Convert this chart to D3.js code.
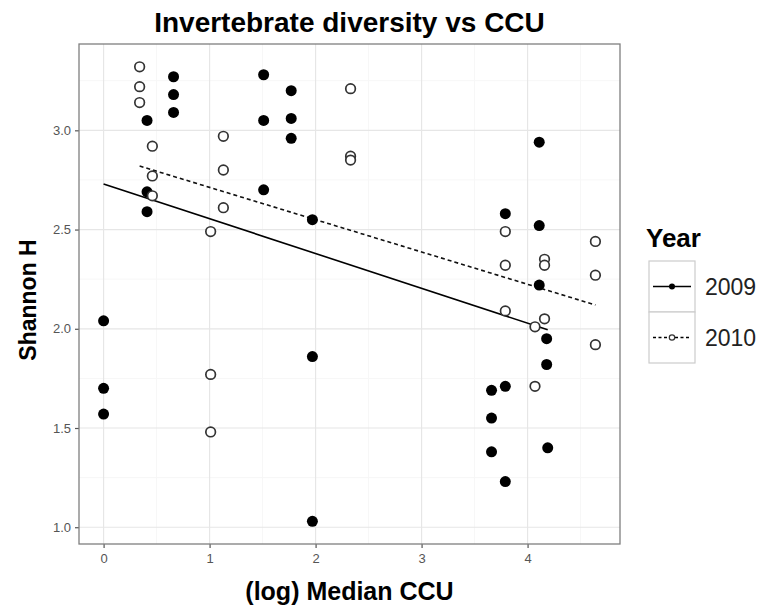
<!DOCTYPE html>
<html>
<head>
<meta charset="utf-8">
<script src="https://cdn.jsdelivr.net/npm/d3@7"></script>
<style>
  html, body { margin: 0; padding: 0; background: #fff; }
  svg { display: block; font-family: "Liberation Sans", Arial, sans-serif; }
</style>
</head>
<body>
<svg id="chart" width="764" height="609"></svg>
<script>
// ---- data ----
const years = ["2009", "2010"];
const x2009 = [0, 0, 0, 0.41, 0.41, 0.41, 0.66, 0.66, 0.66, 1.51, 1.51, 1.51, 1.77, 1.77, 1.77,
               1.97, 1.97, 1.97, 3.66, 3.66, 3.66, 3.79, 3.79, 3.79, 4.11, 4.11, 4.11, 4.18, 4.18, 4.19];
const y2009 = [2.04, 1.70, 1.57, 3.05, 2.69, 2.59, 3.27, 3.18, 3.09, 3.28, 3.05, 2.70, 3.20, 3.06, 2.96,
               2.55, 1.86, 1.03, 1.69, 1.55, 1.38, 2.58, 1.71, 1.23, 2.94, 2.52, 2.22, 1.95, 1.82, 1.40];
const x2010 = [0.34, 0.34, 0.34, 0.46, 0.46, 0.46, 1.01, 1.01, 1.01, 1.13, 1.13, 1.13, 2.33, 2.33, 2.33,
               3.79, 3.79, 3.79, 4.07, 4.07, 4.16, 4.16, 4.16, 4.64, 4.64, 4.64];
const y2010 = [3.32, 3.22, 3.14, 2.92, 2.77, 2.67, 2.49, 1.77, 1.48, 2.97, 2.80, 2.61, 3.21, 2.87, 2.85,
               2.49, 2.32, 2.09, 2.01, 1.71, 2.35, 2.32, 2.05, 2.44, 2.27, 1.92];
// fitted regression lines (endpoints)
const fit2009X = [0, 4.19];
const fit2009Y = [2.73, 1.995];
const fit2010X = [0.34, 4.64];
const fit2010Y = [2.82, 2.12];
const xTicks = [0, 1, 2, 3, 4];
const yTicks = [1.0, 1.5, 2.0, 2.5, 3.0];
const xMinor = [-0.5, 0.5, 1.5, 2.5, 3.5, 4.5];
const yMinor = [0.75, 1.25, 1.75, 2.25, 2.75, 3.25];

// ---- layout ----
const svg = d3.select("#chart");
const P = { left: 79, right: 620, top: 44, bottom: 544 };
const xAll = x2009.concat(x2010), yAll = y2009.concat(y2010);
const xExt = d3.extent(xAll), yExt = d3.extent(yAll);
const xPad = (xExt[1] - xExt[0]) * 0.05, yPad = (yExt[1] - yExt[0]) * 0.05;
const x = d3.scaleLinear().domain([xExt[0] - xPad, xExt[1] + xPad]).range([P.left, P.right]);
const y = d3.scaleLinear().domain([yExt[0] - yPad, 3.435]).range([P.bottom, P.top]);

const g = svg.append("g");
g.append("rect").attr("x", P.left).attr("y", P.top)
  .attr("width", P.right - P.left).attr("height", P.bottom - P.top).attr("fill", "#fff");

// minor grid
g.selectAll(".vminor").data(xMinor.filter(v => v > x.domain()[0] && v < x.domain()[1])).enter()
  .append("line").attr("x1", d => x(d)).attr("x2", d => x(d)).attr("y1", P.top).attr("y2", P.bottom)
  .attr("stroke", "#f7f7f7").attr("stroke-width", 1);
g.selectAll(".hminor").data(yMinor.filter(v => v > y.domain()[0] && v < y.domain()[1])).enter()
  .append("line").attr("y1", d => y(d)).attr("y2", d => y(d)).attr("x1", P.left).attr("x2", P.right)
  .attr("stroke", "#f7f7f7").attr("stroke-width", 1);
// major grid
g.selectAll(".vmajor").data(xTicks).enter()
  .append("line").attr("x1", d => x(d)).attr("x2", d => x(d)).attr("y1", P.top).attr("y2", P.bottom)
  .attr("stroke", "#e6e6e6").attr("stroke-width", 1.2);
g.selectAll(".hmajor").data(yTicks).enter()
  .append("line").attr("y1", d => y(d)).attr("y2", d => y(d)).attr("x1", P.left).attr("x2", P.right)
  .attr("stroke", "#e6e6e6").attr("stroke-width", 1.2);

// axes
const xAxis = d3.axisBottom(x).tickValues(xTicks).tickFormat(d3.format("d")).tickSize(4).tickPadding(6);
const yAxis = d3.axisLeft(y).tickValues(yTicks).tickFormat(d3.format(".1f")).tickSize(4).tickPadding(4);
const gx = svg.append("g").attr("transform", `translate(0,${P.bottom})`).call(xAxis);
const gy = svg.append("g").attr("transform", `translate(${P.left},0)`).call(yAxis);
[gx, gy].forEach(a => {
  a.select(".domain").remove();
  a.selectAll(".tick line").attr("stroke", "#555").attr("stroke-width", 1.2);
  a.selectAll(".tick text").attr("fill", "#555555").style("font-size", "13px")
    .style("font-family", "'Liberation Sans', Arial, sans-serif");
});

// fit lines
const line = d3.line().x(d => x(d[0])).y(d => y(d[1]));
svg.append("path").datum(fit2009X.map((v, i) => [v, fit2009Y[i]]))
  .attr("d", line).attr("fill", "none").attr("stroke", "#000").attr("stroke-width", 1.6);
svg.append("path").datum(fit2010X.map((v, i) => [v, fit2010Y[i]]))
  .attr("d", line).attr("fill", "none").attr("stroke", "#111").attr("stroke-width", 1.6)
  .attr("stroke-dasharray", "4,3");

// points
svg.append("g").selectAll("circle").data(x2009.map((v, i) => [v, y2009[i]])).enter()
  .append("circle").attr("cx", d => x(d[0])).attr("cy", d => y(d[1])).attr("r", 5.5)
  .attr("fill", "#000");
svg.append("g").selectAll("circle").data(x2010.map((v, i) => [v, y2010[i]])).enter()
  .append("circle").attr("cx", d => x(d[0])).attr("cy", d => y(d[1])).attr("r", 4.8)
  .attr("fill", "#fff").attr("stroke", "#333").attr("stroke-width", 1.7);

// panel border
svg.append("rect").attr("x", P.left).attr("y", P.top)
  .attr("width", P.right - P.left).attr("height", P.bottom - P.top)
  .attr("fill", "none").attr("stroke", "#7f7f7f").attr("stroke-width", 1.3);

// titles
svg.append("text").attr("x", (P.left + P.right) / 2).attr("y", 32).attr("text-anchor", "middle")
  .style("font-size", "28px").style("font-weight", "bold").attr("fill", "#000")
  .text("Invertebrate diversity vs CCU");
svg.append("text").attr("x", (P.left + P.right) / 2).attr("y", 600).attr("text-anchor", "middle")
  .style("font-size", "25px").style("font-weight", "bold").attr("fill", "#000")
  .text("(log) Median CCU");
svg.append("text").attr("transform", `translate(36,${(P.top + P.bottom) / 2 + 6}) rotate(-90)`)
  .attr("text-anchor", "middle")
  .style("font-size", "23px").style("font-weight", "bold").attr("fill", "#000")
  .text("Shannon H");

// legend
const L = { x: 649, y: 261, w: 46, h: 51 };
svg.append("text").attr("x", 646).attr("y", 247).style("font-size", "26px")
  .style("font-weight", "bold").attr("fill", "#000").text("Year");
years.forEach((yr, i) => {
  const ky = L.y + i * L.h;
  svg.append("rect").attr("x", L.x).attr("y", ky).attr("width", L.w).attr("height", L.h)
    .attr("fill", "#fff").attr("stroke", "#cccccc").attr("stroke-width", 1.2);
  const cy = ky + L.h / 2;
  svg.append("line").attr("x1", L.x + 4).attr("x2", L.x + L.w - 4).attr("y1", cy).attr("y2", cy)
    .attr("stroke", "#000").attr("stroke-width", 1.4)
    .attr("stroke-dasharray", i === 0 ? null : "3,2.5");
  svg.append("circle").attr("cx", L.x + L.w / 2).attr("cy", cy).attr("r", i === 0 ? 3 : 2.7)
    .attr("fill", i === 0 ? "#000" : "#fff").attr("stroke", i === 0 ? "none" : "#333").attr("stroke-width", 1.2);
  svg.append("text").attr("x", 705).attr("y", cy).attr("dy", "0.35em")
    .style("font-size", "23px").attr("fill", "#222").text(yr);
});
</script>
</body>
</html>
